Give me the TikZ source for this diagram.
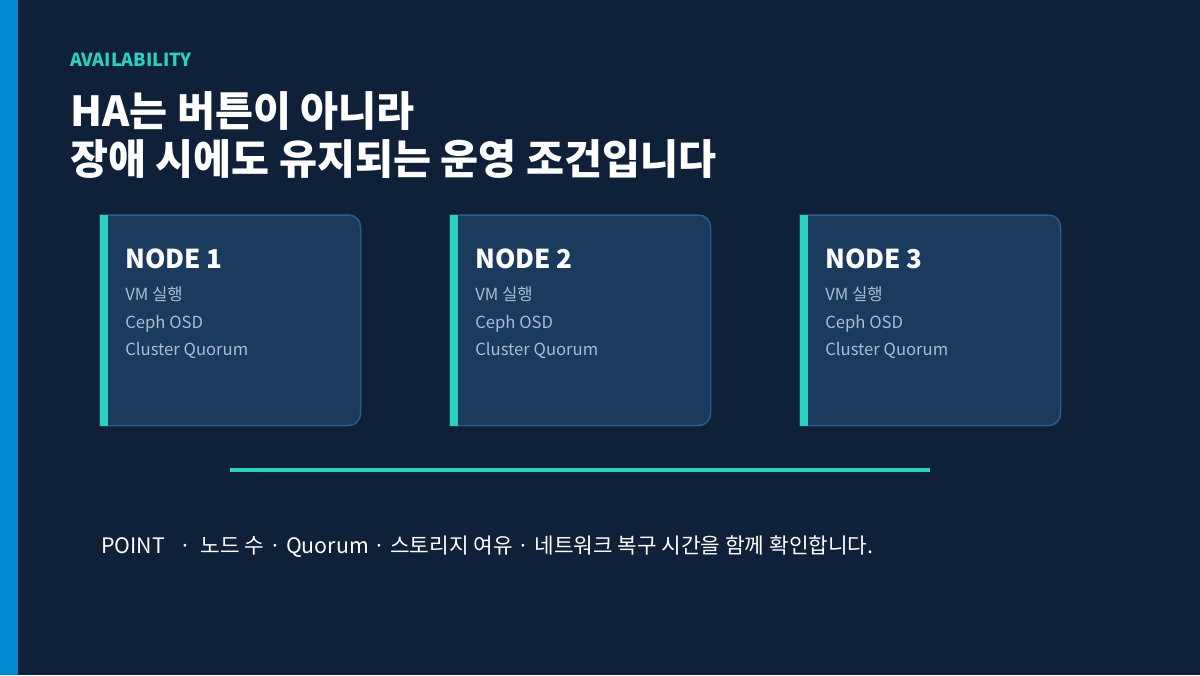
\documentclass[tikz,border=0pt]{standalone}
\usepackage{fontspec}
\setmainfont{Noto Sans CJK KR}
\usetikzlibrary{positioning}
\definecolor{bgdark}{HTML}{0E2139}
\definecolor{stripblue}{HTML}{0288D1}
\definecolor{boxfill}{HTML}{1A3A5E}
\definecolor{boxline}{HTML}{2E5A85}
\definecolor{accent}{HTML}{2BD1BE}
\definecolor{itemtext}{HTML}{A9BCD3}
\tikzset{
  card/.style={minimum width=260*0.75pt, minimum height=210*0.75pt, inner sep=0pt, anchor=north west},
  cardtitle/.style={anchor=base west, inner sep=0pt, text=white, font=\fontsize{19.5}{22}\selectfont\bfseries},
  carditem/.style={anchor=base west, inner sep=0pt, text=itemtext, font=\fontsize{12.5}{15}\selectfont},
  headline/.style={anchor=base west, inner sep=0pt, text=white, font=\fontsize{31}{36}\selectfont\bfseries},
}
\begin{document}
\begin{tikzpicture}[x=0.75pt,y=-0.75pt]
    \fill[bgdark] (0,0) rectangle (1200,675);
    \fill[stripblue] (0,0) rectangle (18,675);
    \useasboundingbox (0,0) rectangle (1200,675);

    \node[anchor=base west, inner sep=0pt, text=accent, font=\fontsize{13.5}{15}\selectfont\bfseries] (kicker) at (70,66) {AVAILABILITY};
    \node[headline] (title1) at (70,126) {HA는 버튼이 아니라};
    \node[headline] (title2) at (70,174) {장애 시에도 유지되는 운영 조건입니다};

    \foreach \i in {1,2,3} {
        \node[card] (node\i) at ({100+350*(\i-1)},215) {};
        \filldraw[fill=boxfill, draw=boxline, line width=1.5*0.75pt]
            (node\i.north west) {[rounded corners=12*0.75pt] -- (node\i.north east) -- (node\i.south east)} -- (node\i.south west) -- cycle;
        \fill[accent] (node\i.north west) rectangle ([xshift=8*0.75pt]node\i.south west);
        \node[cardtitle] (title\i) at ([xshift=25*0.75pt, yshift=-53*0.75pt]node\i.north west) {NODE \i};
        \node[carditem] (vm\i) at ([xshift=25*0.75pt, yshift=-85*0.75pt]node\i.north west) {VM 실행};
        \node[carditem] (osd\i) at ([xshift=25*0.75pt, yshift=-113*0.75pt]node\i.north west) {Ceph OSD};
        \node[carditem] (quorum\i) at ([xshift=25*0.75pt, yshift=-140*0.75pt]node\i.north west) {Cluster Quorum};
    }

    \coordinate (lineA) at (230,470);
    \coordinate (lineB) at (930,470);
    \draw[accent, line width=4*0.75pt] (lineA) -- (lineB);

    \node[anchor=base west, inner sep=0pt, text=white, font=\fontsize{16}{19}\selectfont] (point) at (101,553)
        {POINT \ \ · \ 노드 수 · Quorum · 스토리지 여유 · 네트워크 복구 시간을 함께 확인합니다.};
\end{tikzpicture}
\end{document}
